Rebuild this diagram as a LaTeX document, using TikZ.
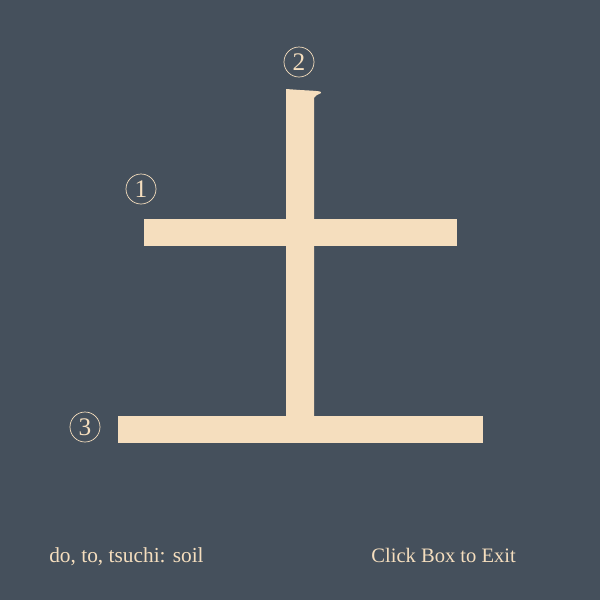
\documentclass[tikz,border=0pt]{standalone}
\usepackage{fontspec}
\setmainfont{Liberation Serif}
\usetikzlibrary{positioning}
\definecolor{slate}{RGB}{69,80,92}
\definecolor{sand}{RGB}{245,222,190}

\begin{document}
\begin{tikzpicture}[x=0.025cm,y=-0.025cm]
  \fill[slate] (0,0) rectangle (600,600);
  \useasboundingbox (0,0) rectangle (600,600);
  % strokes of the kanji
  \fill[sand] (144,219) rectangle (457,246);
  \fill[sand] (286,416) -- (286,89) -- (300,90) .. controls (318,91) and (322,91) .. (321,93)
    .. controls (318,95) and (315,95) .. (314,98) -- (314,416) -- cycle;
  \fill[sand] (118,416) rectangle (483,443);
  % stroke order marks
  \foreach \n/\p in {1/{(141,189)},2/{(299,62)},3/{(85,427)}}{
    \node[circle,draw=sand,line width=0.5pt,text=sand,inner sep=0pt,minimum size=30*0.025cm,font=\fontsize{18}{18}\selectfont] (mark\n) at \p {\n};
  }
  \node[anchor=base west,text=sand,inner sep=0pt,font=\fontsize{15.2}{16}\selectfont] (meaning) at (49,562) {do, to, tsuchi: soil};
  \node[anchor=base east,text=sand,inner sep=0pt,font=\fontsize{14.6}{16}\selectfont] (exit) at (516,562) {Click Box to Exit};
\end{tikzpicture}
\end{document}
